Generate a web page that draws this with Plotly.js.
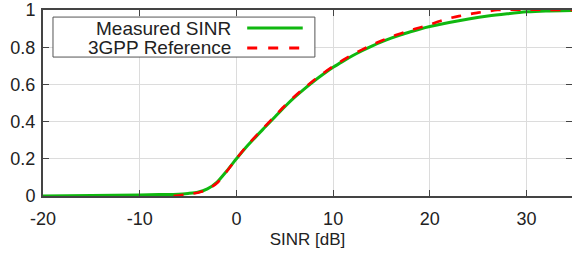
<!DOCTYPE html>
<html>
<head>
<meta charset="utf-8">
<script src="https://cdn.plot.ly/plotly-3.0.1.min.js"></script>
<style>html,body{margin:0;padding:0;background:#fff;}#chart{width:572px;height:258px;}</style>
</head>
<body>
<div id="chart"></div>
<script>
var measuredX = [-20, -15, -10, -8, -6, -5, -4, -3, -2, -1, 0, 1, 2, 3, 4, 5, 6, 7, 8, 9, 10, 11, 12, 13, 14, 15, 16, 17, 18, 19, 20, 22, 24, 26, 28, 30, 32, 35];
var measuredY = [0.0, 0.003, 0.006, 0.008, 0.01, 0.014, 0.02, 0.038, 0.075, 0.135, 0.2, 0.262, 0.318, 0.372, 0.426, 0.48, 0.53, 0.575, 0.617, 0.656, 0.692, 0.724, 0.754, 0.781, 0.806, 0.829, 0.849, 0.867, 0.883, 0.898, 0.911, 0.933, 0.952, 0.968, 0.98, 0.99, 0.995, 0.998];
var referenceX = [-6.5, -6, -5, -4, -3, -2, -1, 0, 1, 2, 3, 4, 5, 6, 7, 8, 9, 10, 11, 12, 13, 14, 15, 16, 17, 18, 19, 20, 21, 22, 23, 24, 25, 26, 27, 35];
var referenceY = [0.0, 0.003, 0.009, 0.018, 0.034, 0.07, 0.132, 0.2, 0.265, 0.322, 0.377, 0.431, 0.485, 0.535, 0.58, 0.622, 0.661, 0.697, 0.73, 0.76, 0.787, 0.812, 0.835, 0.856, 0.874, 0.891, 0.906, 0.922, 0.94, 0.955, 0.967, 0.977, 0.986, 0.993, 1.0, 1.0];
var legendLabels = ["Measured SINR", "3GPP Reference"];
var xTicks = [-20, -10, 0, 10, 20, 30];
var yTicks = [0, 0.2, 0.4, 0.6, 0.8, 1];

var green = "#10b810";
var red = "#ff0000";

var traces = [
  {x: measuredX, y: measuredY, mode: "lines", name: legendLabels[0],
   line: {color: green, width: 3, shape: "spline", smoothing: 0.6}},
  {x: referenceX, y: referenceY, mode: "lines", name: legendLabels[1],
   line: {color: red, width: 2.6, dash: "10px,10px", shape: "spline", smoothing: 0.6}}
];

var fam = "Liberation Sans, Arial, sans-serif";
var font = {family: fam, size: 18, color: "#222"};
var axisCommon = {
  showline: true, linecolor: "#444", linewidth: 2, mirror: "ticks",
  ticks: "inside", ticklen: 6, tickwidth: 1, tickcolor: "#444",
  showgrid: true, gridcolor: "#dcdcdc", gridwidth: 1, zeroline: false,
  tickfont: font
};

var lx0 = 0.0189, lx1 = 0.514, ly0 = 0.747, ly1 = 0.962;
var row1 = 0.903, row2 = 0.796;
var sx0 = 0.386, sx1 = 0.491;

var layout = {
  width: 572, height: 258,
  margin: {l: 43, r: 0, t: 10, b: 62},
  paper_bgcolor: "#fff", plot_bgcolor: "#fff",
  showlegend: false,
  font: font,
  xaxis: Object.assign({}, axisCommon, {
    range: [-20, 34.7], tickvals: xTicks, ticktext: xTicks.map(String),
    ticklabelstandoff: 5,
    title: {text: "SINR [dB]", font: {family: fam, size: 17, color: "#222"}, standoff: 6}
  }),
  yaxis: Object.assign({}, axisCommon, {
    range: [0, 1], tickvals: yTicks, ticktext: yTicks.map(String), ticklabelstandoff: 2
  }),
  shapes: [
    {type: "rect", xref: "paper", yref: "paper", x0: lx0, x1: lx1, y0: ly0, y1: ly1,
     line: {color: "#555", width: 1}, fillcolor: "#fff", layer: "above"},
    {type: "line", xref: "paper", yref: "paper", x0: sx0, x1: sx1, y0: row1, y1: row1,
     line: {color: green, width: 3}, layer: "above"},
    {type: "line", xref: "paper", yref: "paper", x0: sx0, x1: sx1, y0: row2, y1: row2,
     line: {color: red, width: 3, dash: "10px,11px"}, layer: "above"}
  ],
  annotations: [
    {xref: "paper", yref: "paper", x: 0.359, y: row1, xanchor: "right", yanchor: "middle",
     text: legendLabels[0], showarrow: false, font: {family: fam, size: 19, color: "#222"}},
    {xref: "paper", yref: "paper", x: 0.359, y: row2, xanchor: "right", yanchor: "middle",
     text: legendLabels[1], showarrow: false, font: {family: fam, size: 19, color: "#222"}}
  ]
};

Plotly.newPlot("chart", traces, layout, {staticPlot: true, displayModeBar: false});
</script>
</body>
</html>
